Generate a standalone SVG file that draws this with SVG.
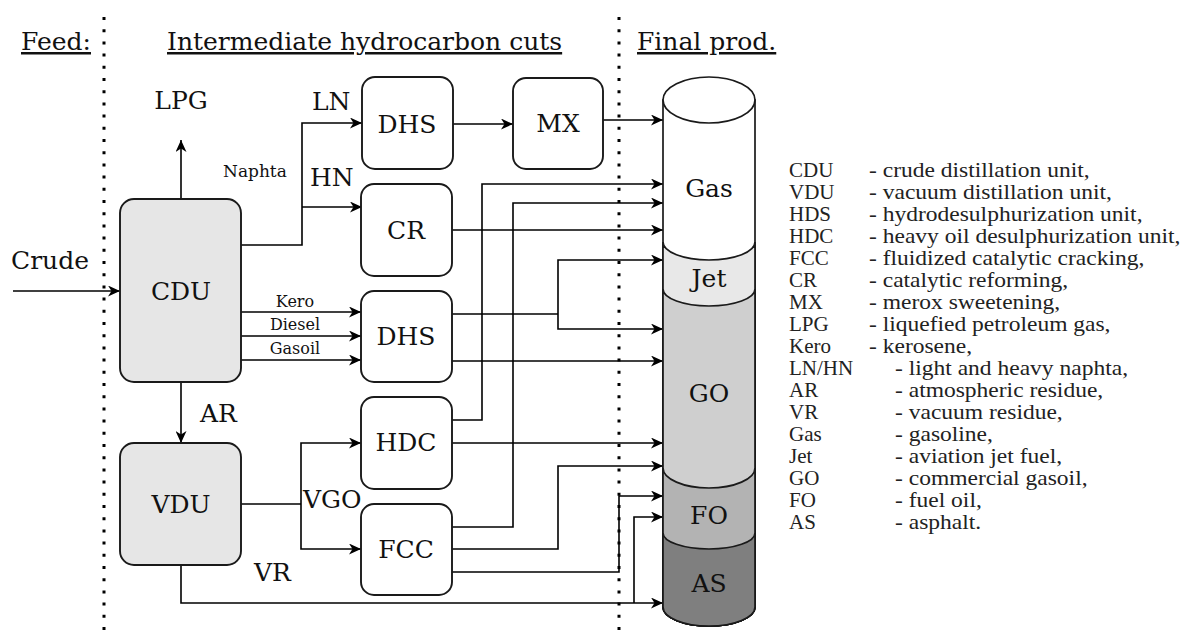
<svg xmlns="http://www.w3.org/2000/svg" width="1189" height="637" viewBox="0 0 1189 637">
<defs>
<marker id="arr" markerUnits="userSpaceOnUse" markerWidth="13" markerHeight="11" refX="12" refY="5.5" orient="auto">
<path d="M0,0 L12,5.5 L0,11 L3.5,5.5 Z" fill="#000"/>
</marker>
<style>
.big{font-size:25px}
.sm{font-size:16px}
.box{fill:#fff;stroke:#1a1a1a;stroke-width:1.9}
.gray{fill:#e6e6e6}
.ln{fill:none;stroke:#000;stroke-width:1.6}
.dot{stroke:#000;stroke-width:3;stroke-dasharray:3 9.2}
.cyl{stroke:#1a1a1a;stroke-width:1.7}
</style>
</defs>
<rect width="1189" height="637" fill="#fff"/>

<g id="separators">
<line class="dot" x1="104" y1="17" x2="104" y2="634"/>
<line class="dot" x1="619" y1="17" x2="619" y2="634"/>
</g>

<g id="headers" class="big" font-family="DejaVu Serif, Liberation Serif, serif" fill="#111">
<text x="21" y="50" text-decoration="underline">Feed:</text>
<text x="167" y="50" text-decoration="underline">Intermediate hydrocarbon cuts</text>
<text x="637" y="50" text-decoration="underline">Final prod.</text>
</g>

<g id="connectors">
<path class="ln" d="M13,291 H120" marker-end="url(#arr)"/>
<path class="ln" d="M181,199 V140" marker-end="url(#arr)"/>
<path class="ln" d="M241,245 H302 V123 H362" marker-end="url(#arr)"/>
<path class="ln" d="M302,207 H362" marker-end="url(#arr)"/>
<path class="ln" d="M241,312 H361" marker-end="url(#arr)"/>
<path class="ln" d="M241,336 H361" marker-end="url(#arr)"/>
<path class="ln" d="M241,360 H361" marker-end="url(#arr)"/>
<path class="ln" d="M181,382 V443" marker-end="url(#arr)"/>
<path class="ln" d="M241,504 H301"/>
<path class="ln" d="M301,504 V443 H361" marker-end="url(#arr)"/>
<path class="ln" d="M301,504 V549 H361" marker-end="url(#arr)"/>
<path class="ln" d="M181,565 V603 H663" marker-end="url(#arr)"/>
<path class="ln" d="M634,603 V517 H663" marker-end="url(#arr)"/>
<path class="ln" d="M453,124 H513" marker-end="url(#arr)"/>
<path class="ln" d="M603,120 H663" marker-end="url(#arr)"/>
<path class="ln" d="M452,230 H663" marker-end="url(#arr)"/>
<path class="ln" d="M452,314 H558"/>
<path class="ln" d="M558,314 V260 H663" marker-end="url(#arr)"/>
<path class="ln" d="M558,314 V329 H663" marker-end="url(#arr)"/>
<path class="ln" d="M452,361 H663" marker-end="url(#arr)"/>
<path class="ln" d="M452,420 H482 V184 H663" marker-end="url(#arr)"/>
<path class="ln" d="M452,443 H663" marker-end="url(#arr)"/>
<path class="ln" d="M452,527 H513 V203 H663" marker-end="url(#arr)"/>
<path class="ln" d="M452,549 H558 V466 H663" marker-end="url(#arr)"/>
<path class="ln" d="M452,572 H619 V496 H663" marker-end="url(#arr)"/>
</g>

<g id="flow-labels" font-family="DejaVu Serif, Liberation Serif, serif" fill="#111">
<text class="big" x="11" y="269">Crude</text>
<text class="big" x="181" y="109" text-anchor="middle">LPG</text>
<text x="223" y="177" font-size="17">Naphta</text>
<text class="big" x="312" y="110">LN</text>
<text class="big" x="310" y="186">HN</text>
<text class="sm" x="295" y="307" text-anchor="middle">Kero</text>
<text class="sm" x="295" y="330" text-anchor="middle">Diesel</text>
<text class="sm" x="295" y="354" text-anchor="middle">Gasoil</text>
<text class="big" x="200" y="422">AR</text>
<text class="big" x="303" y="508">VGO</text>
<text class="big" x="254" y="581">VR</text>
</g>

<g id="nodes" font-family="DejaVu Serif, Liberation Serif, serif" fill="#111">
<g id="node-CDU">
<rect class="box gray" x="120" y="199" width="121" height="183" rx="14"/>
<text class="big" x="181" y="300" text-anchor="middle">CDU</text>
</g>
<g id="node-VDU">
<rect class="box gray" x="120" y="443" width="121" height="122" rx="14"/>
<text class="big" x="181" y="513" text-anchor="middle">VDU</text>
</g>
<g id="node-DHS1">
<rect class="box" x="362" y="77" width="91" height="92" rx="13"/>
<text class="big" x="407" y="133" text-anchor="middle">DHS</text>
</g>
<g id="node-MX">
<rect class="box" x="513" y="78" width="90" height="91" rx="13"/>
<text class="big" x="558" y="132" text-anchor="middle">MX</text>
</g>
<g id="node-CR">
<rect class="box" x="361" y="184" width="91" height="92" rx="13"/>
<text class="big" x="406" y="239" text-anchor="middle">CR</text>
</g>
<g id="node-DHS2">
<rect class="box" x="361" y="291" width="91" height="91" rx="13"/>
<text class="big" x="406" y="345" text-anchor="middle">DHS</text>
</g>
<g id="node-HDC">
<rect class="box" x="361" y="397" width="91" height="92" rx="13"/>
<text class="big" x="406" y="451" text-anchor="middle">HDC</text>
</g>
<g id="node-FCC">
<rect class="box" x="361" y="504" width="91" height="91" rx="13"/>
<text class="big" x="406" y="558" text-anchor="middle">FCC</text>
</g>

<g id="node-product-column">
<path class="cyl" fill="#fff" d="M663,100 V607 A46,19 0 0 0 755,607 V100 Z"/>
<path class="cyl" fill="#e8e8e8" d="M663,242 A46,18 0 0 0 755,242 V607 A46,19 0 0 1 663,607 Z"/>
<path class="cyl" fill="#cfcfcf" d="M663,289 A46,17 0 0 0 755,289 V607 A46,19 0 0 1 663,607 Z"/>
<path class="cyl" fill="#b3b3b3" d="M663,468 A46,20 0 0 0 755,468 V607 A46,19 0 0 1 663,607 Z"/>
<path class="cyl" fill="#7f7f7f" d="M663,533 A46,16 0 0 0 755,533 V607 A46,19 0 0 1 663,607 Z"/>
<ellipse class="cyl" fill="#fff" cx="709" cy="100" rx="46" ry="23"/>
<g class="big" text-anchor="middle">
<text x="709" y="197">Gas</text>
<text x="709" y="287">Jet</text>
<text x="709" y="402">GO</text>
<text x="709" y="524">FO</text>
<text x="709" y="592">AS</text>
</g>
</g>
</g>

<g id="legend" font-family="Liberation Serif, Times New Roman, serif" font-size="21" fill="#222">
<text x="789" y="177">CDU</text>
<text x="789" y="199">VDU</text>
<text x="789" y="221">HDS</text>
<text x="789" y="243">HDC</text>
<text x="789" y="265">FCC</text>
<text x="789" y="287">CR</text>
<text x="789" y="309">MX</text>
<text x="789" y="331">LPG</text>
<text x="789" y="353">Kero</text>
<text x="789" y="375">LN/HN</text>
<text x="789" y="397">AR</text>
<text x="789" y="419">VR</text>
<text x="789" y="441">Gas</text>
<text x="789" y="463">Jet</text>
<text x="789" y="485">GO</text>
<text x="789" y="507">FO</text>
<text x="789" y="529">AS</text>
<g transform="translate(869,0) scale(1.12,1)">
<text x="0" y="177">- crude distillation unit,</text>
<text x="0" y="199">- vacuum distillation unit,</text>
<text x="0" y="221">- hydrodesulphurization unit,</text>
<text x="0" y="243">- heavy oil desulphurization unit,</text>
<text x="0" y="265">- fluidized catalytic cracking,</text>
<text x="0" y="287">- catalytic reforming,</text>
<text x="0" y="309">- merox sweetening,</text>
<text x="0" y="331">- liquefied petroleum gas,</text>
<text x="0" y="353">- kerosene,</text>
</g>
<g transform="translate(895,0) scale(1.12,1)">
<text x="0" y="375">- light and heavy naphta,</text>
<text x="0" y="397">- atmospheric residue,</text>
<text x="0" y="419">- vacuum residue,</text>
<text x="0" y="441">- gasoline,</text>
<text x="0" y="463">- aviation jet fuel,</text>
<text x="0" y="485">- commercial gasoil,</text>
<text x="0" y="507">- fuel oil,</text>
<text x="0" y="529">- asphalt.</text>
</g>
</g>
</svg>
